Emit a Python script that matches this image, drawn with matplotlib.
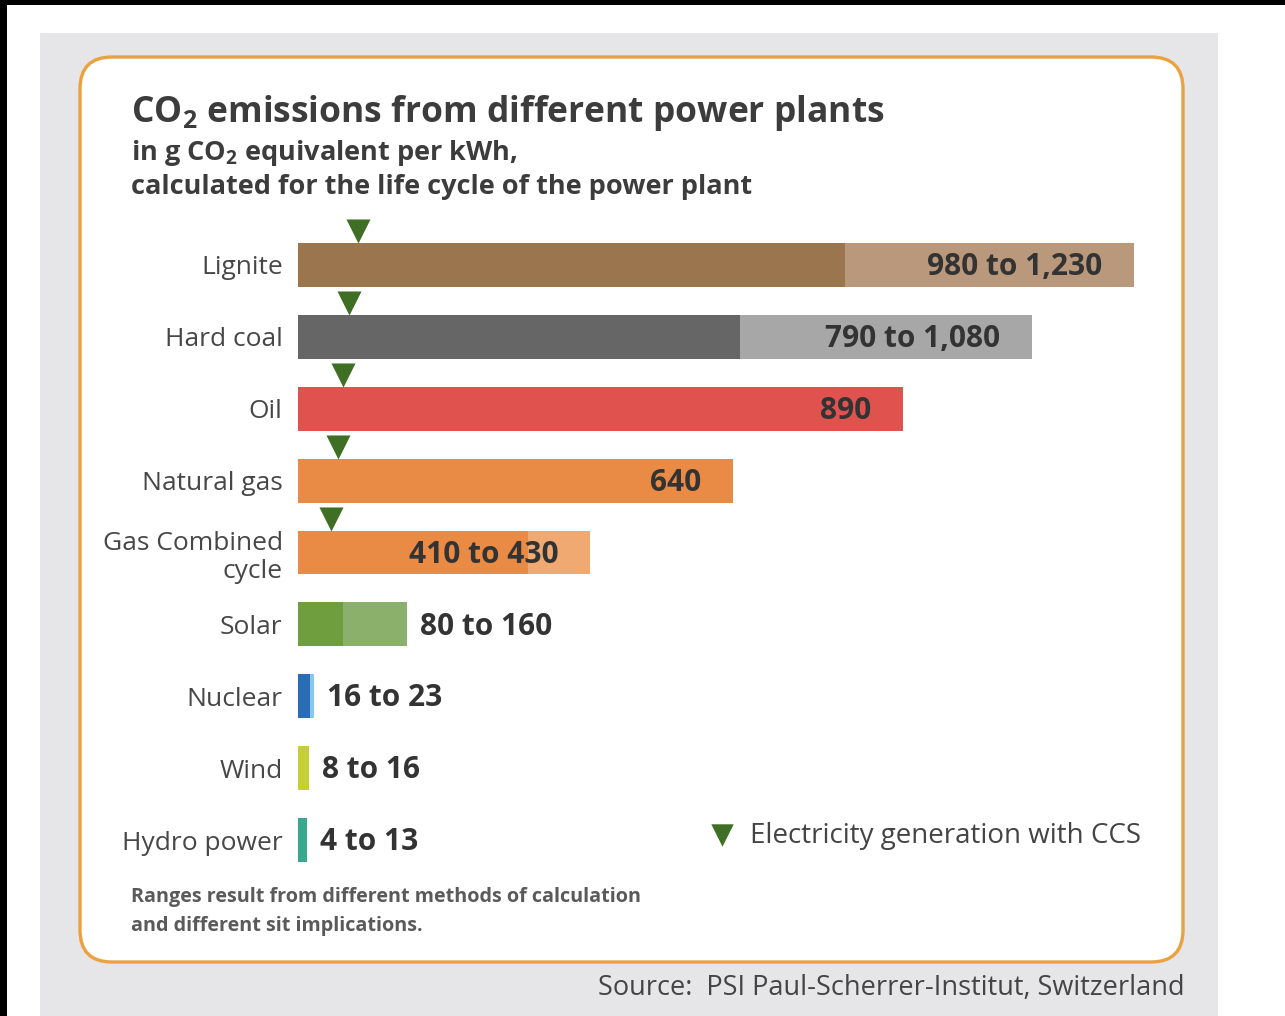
import matplotlib.pyplot as plt
from matplotlib.patches import Rectangle, FancyBboxPatch

plt.rcParams['font.family'] = ['Open Sans', 'DejaVu Sans']
plt.rcParams['mathtext.fontset'] = 'custom'
plt.rcParams['mathtext.rm'] = 'Open Sans'
plt.rcParams['mathtext.bf'] = 'Open Sans:bold'

# --- data ---
categories = ["Lignite", "Hard coal", "Oil", "Natural gas", "Gas Combined\ncycle",
              "Solar", "Nuclear", "Wind", "Hydro power"]
low = [980, 790, 890, 640, 410, 80, 16, 8, 4]
high = [1230, 1080, 890, 640, 430, 160, 23, 16, 13]
dark_part = [805, 650, 890, 640, 338, 66, 17, 16, 13]   # darker segment as drawn
value_labels = ["980 to 1,230", "790 to 1,080", "890", "640", "410 to 430",
                "80 to 160", "16 to 23", "8 to 16", "4 to 13"]
ccs = [88, 75, 66, 59, 48]   # CCS markers (first five plants)

dark_colors = ["#9b754d", "#666666", "#e0524d", "#ea8b45", "#ea8b45",
               "#6f9e3f", "#2b6db4", "#c5d037", "#3aa88c"]
light_colors = ["#b9987b", "#a7a7a7", "#e0524d", "#ea8b45", "#f0a971",
                "#8bb06b", "#88c7ee", "#c5d037", "#3aa88c"]

W, H = 1285, 1016
fig = plt.figure(figsize=(W / 100, H / 100), dpi=100)
fig.patch.set_facecolor("white")

# --- background in pixel coordinates ---
bg = fig.add_axes([0, 0, 1, 1], zorder=0)
bg.set_xlim(0, W)
bg.set_ylim(H, 0)
bg.axis("off")
bg.add_patch(Rectangle((40, 33), 1178, 990, color="#e6e6e8", lw=0))
bg.add_patch(FancyBboxPatch((80, 57), 1103, 905,
                            boxstyle="round,pad=0,rounding_size=32",
                            fc="white", ec="#e9a23f", lw=2.4))
bg.add_patch(Rectangle((0, 0), W, 5, color="black", lw=0))
bg.add_patch(Rectangle((0, 0), 7, H, color="black", lw=0))

txt = "#3c3c3c"
bg.text(131, 113, r"CO$_\mathbf{2}$ emissions from different power plants",
        fontsize=25.5, fontweight="bold", color=txt, va="center")
bg.text(131, 153, r"in g CO$_\mathbf{2}$ equivalent per kWh,",
        fontsize=19.5, fontweight="bold", color=txt, va="center")
bg.text(131, 187, "calculated for the life cycle of the power plant",
        fontsize=19.5, fontweight="bold", color=txt, va="center")
bg.text(131, 897, "Ranges result from different methods of calculation",
        fontsize=14.2, fontweight="bold", color="#5a5a5a", va="center")
bg.text(131, 926, "and different sit implications.",
        fontsize=14.2, fontweight="bold", color="#5a5a5a", va="center")
bg.text(1185, 988, "Source:  PSI Paul-Scherrer-Institut, Switzerland",
        fontsize=19.5, color="#444444", ha="right", va="center")

# legend
bg.scatter([722], [835], marker="v", s=260, color="#3e6f24", lw=0)
bg.text(750, 836, "Electricity generation with CCS", fontsize=20,
        color="#444444", va="center")

# --- bars ---
px_per_unit = 0.68
ax_left, ax_right, ax_top, ax_bot = 298, 1180, 229, 876
ax = fig.add_axes([ax_left / W, 1 - ax_bot / H, (ax_right - ax_left) / W,
                   (ax_bot - ax_top) / H], zorder=1)
ax.patch.set_alpha(0)
ax.set_xlim(0, (ax_right - ax_left) / px_per_unit)
ax.set_ylim(len(categories) - 0.5, -0.5)

ypos = list(range(len(categories)))
ax.barh(ypos, high, height=0.61, color=light_colors, lw=0)
ax.barh(ypos, dark_part, height=0.61, color=dark_colors, lw=0)

for i, lab in enumerate(value_labels):
    if high[i] > 300:
        ax.text(high[i] - 32 / px_per_unit, i + 0.03, lab, ha="right", va="center",
                fontsize=21.5, fontweight="bold", color="#333333")
    else:
        ax.text(high[i] + 13 / px_per_unit, i + 0.03, lab, ha="left", va="center",
                fontsize=21.5, fontweight="bold", color="#333333")

ax.scatter(ccs, [i - 0.47 for i in range(len(ccs))], marker="v", s=300,
           color="#3e6f24", lw=0, clip_on=False)

ax.set_yticks(ypos)
ax.set_yticklabels(categories, fontsize=19, color="#474747",
                   multialignment="right")
ax.tick_params(axis="y", length=0, pad=11)
ax.set_xticks([])
for s in ax.spines.values():
    s.set_visible(False)

fig.savefig("out.png", dpi=100)
